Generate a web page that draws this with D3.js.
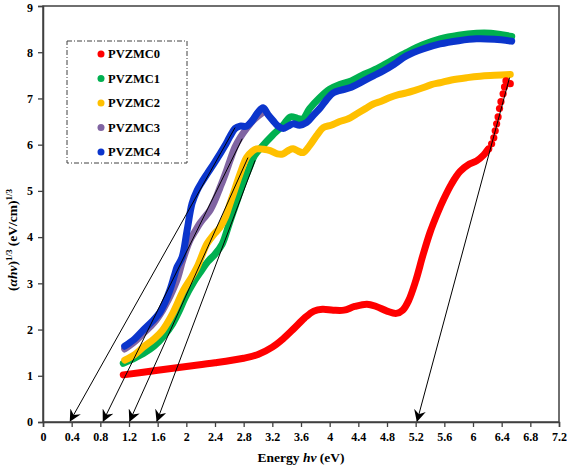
<!DOCTYPE html>
<html><head><meta charset="utf-8">
<script src="https://cdn.jsdelivr.net/npm/d3@7"></script>
<style>body{margin:0;background:#fff}svg{display:block}text{font-family:"Liberation Serif","Times New Roman",serif;font-weight:bold}</style>
</head><body>
<script>
const seriesNames = ["PVZMC0","PVZMC1","PVZMC2","PVZMC3","PVZMC4"];
const seriesColors = ["#ff0000","#00b050","#ffc000","#8064a2","#0b35cc"];
const xTicks = [0,0.4,0.8,1.2,1.6,2,2.4,2.8,3.2,3.6,4,4.4,4.8,5.2,5.6,6,6.4,6.8,7.2];
const yTicks = [0,1,2,3,4,5,6,7,8,9];

const pvzmc0 = [[1.12,1.02],[1.6,1.12],[2.0,1.2],[2.4,1.28],[2.8,1.38],[3.0,1.46],[3.2,1.62],[3.35,1.8],[3.5,2.02],[3.65,2.25],[3.78,2.4],[3.9,2.44],[4.05,2.42],[4.2,2.42],[4.35,2.5],[4.52,2.55],[4.65,2.5],[4.8,2.4],[4.93,2.35],[5.02,2.42],[5.1,2.62],[5.2,3.05],[5.3,3.6],[5.4,4.1],[5.5,4.5],[5.6,4.85],[5.7,5.15],[5.82,5.42],[5.95,5.58],[6.05,5.65],[6.15,5.78],[6.2,5.88]];
const pvzmc0Tail = [[6.22,5.91],[6.26,6.02],[6.29,6.15],[6.31,6.3],[6.33,6.45],[6.35,6.6],[6.37,6.78],[6.39,6.93],[6.42,7.1],[6.44,7.25],[6.46,7.38],[6.52,7.32]];
const pvzmc1 = [[1.12,1.27],[1.25,1.36],[1.4,1.48],[1.55,1.64],[1.68,1.85],[1.81,2.13],[1.9,2.4],[1.98,2.68],[2.1,3.02],[2.2,3.25],[2.3,3.47],[2.4,3.63],[2.5,3.85],[2.6,4.3],[2.7,4.75],[2.8,5.2],[2.88,5.5],[2.95,5.76],[3.05,5.95],[3.2,6.2],[3.35,6.42],[3.45,6.6],[3.55,6.57],[3.62,6.55],[3.72,6.78],[3.85,7.0],[4.0,7.2],[4.14,7.3],[4.3,7.38],[4.45,7.5],[4.6,7.6],[4.75,7.72],[4.9,7.85],[5.07,7.99],[5.3,8.16],[5.54,8.29],[5.8,8.37],[6.05,8.41],[6.25,8.41],[6.4,8.38],[6.54,8.34]];
const pvzmc2 = [[1.14,1.34],[1.28,1.46],[1.4,1.62],[1.55,1.8],[1.67,1.99],[1.81,2.35],[1.96,2.85],[2.06,3.1],[2.15,3.35],[2.29,3.86],[2.38,4.05],[2.47,4.21],[2.55,4.45],[2.61,4.73],[2.68,5.05],[2.75,5.37],[2.84,5.72],[2.92,5.86],[2.98,5.91],[3.08,5.9],[3.17,5.87],[3.27,5.8],[3.35,5.8],[3.43,5.88],[3.49,5.91],[3.56,5.86],[3.63,5.83],[3.72,5.98],[3.82,6.2],[3.91,6.37],[4.02,6.42],[4.14,6.5],[4.26,6.56],[4.38,6.67],[4.5,6.78],[4.61,6.88],[4.72,6.94],[4.84,7.02],[4.96,7.08],[5.07,7.12],[5.18,7.17],[5.3,7.23],[5.42,7.3],[5.54,7.34],[5.7,7.4],[5.92,7.45],[6.1,7.48],[6.3,7.5],[6.52,7.52]];
const pvzmc3 = [[1.14,1.58],[1.28,1.74],[1.4,1.92],[1.55,2.15],[1.67,2.42],[1.74,2.62],[1.81,2.85],[1.88,3.12],[1.95,3.5],[2.05,3.93],[2.12,4.12],[2.19,4.3],[2.26,4.44],[2.33,4.58],[2.4,4.8],[2.47,5.07],[2.54,5.35],[2.61,5.66],[2.68,5.95],[2.75,6.15],[2.84,6.35],[2.93,6.52],[3.0,6.62],[3.07,6.7]];
const pvzmc4 = [[1.14,1.64],[1.28,1.8],[1.4,1.99],[1.52,2.17],[1.63,2.37],[1.7,2.58],[1.77,2.85],[1.83,3.15],[1.87,3.35],[1.94,3.56],[2.01,4.14],[2.08,4.73],[2.15,5.01],[2.22,5.2],[2.29,5.37],[2.38,5.58],[2.47,5.8],[2.54,5.98],[2.61,6.18],[2.68,6.35],[2.75,6.4],[2.84,6.4],[2.92,6.52],[3.0,6.7],[3.07,6.8],[3.14,6.65],[3.21,6.52],[3.28,6.4],[3.35,6.35],[3.42,6.4],[3.49,6.45],[3.58,6.42],[3.68,6.48],[3.78,6.65],[3.87,6.8],[3.96,6.98],[4.05,7.12],[4.16,7.18],[4.28,7.23],[4.45,7.36],[4.61,7.49],[4.75,7.6],[4.9,7.74],[5.07,7.92],[5.3,8.07],[5.54,8.18],[5.8,8.25],[6.05,8.29],[6.3,8.28],[6.54,8.24]];
// tangent lines: [x-intercept, y=0] -> [x end, y end]
const tangentStart = [5.22,1.59,1.21,0.84,0.38];
const tangentEnd = [[6.51,7.45],[2.96,5.66],[2.86,5.72],[2.78,6.13],[2.68,6.37]];

const W=567,H=468;
const x=d3.scaleLinear().domain([0,7.2]).range([43,559]);
const y=d3.scaleLinear().domain([0,9]).range([422,6]);
const svg=d3.select("body").append("svg").attr("width",W).attr("height",H);

const axisCol="#404040";
// frame
svg.append("rect").attr("x",x(0)).attr("y",y(9)).attr("width",x(7.2)-x(0)).attr("height",y(0)-y(9))
  .attr("fill","none").attr("stroke",axisCol).attr("stroke-width",1.5);

const xa=svg.append("g").attr("transform",`translate(0,${y(0)})`)
  .call(d3.axisBottom(x).tickValues(xTicks).tickSize(5).tickPadding(5).tickFormat(d=>String(+d.toFixed(1))));
const ya=svg.append("g").attr("transform",`translate(${x(0)},0)`)
  .call(d3.axisLeft(y).tickValues(yTicks).tickSize(5).tickPadding(5).tickFormat(d3.format("d")));
[xa,ya].forEach(g=>{
  g.select(".domain").attr("stroke",axisCol).attr("stroke-width",1.5);
  g.selectAll(".tick line").attr("stroke",axisCol).attr("stroke-width",1.3);
  g.selectAll(".tick text").attr("fill","#000").style("font-size","12px").style("font-family","Liberation Serif").style("font-weight","bold");
});
ya.selectAll(".tick text").filter(d=>d===9).attr("dy","0.45em");

const data=[pvzmc0,pvzmc1,pvzmc2,pvzmc3,pvzmc4];
const line=d3.line().x(d=>x(d[0])).y(d=>y(d[1])).curve(d3.curveCatmullRom.alpha(0.5));
data.forEach((s,i)=>{
  svg.append("path").datum(s).attr("d",line).attr("fill","none")
    .attr("stroke",seriesColors[i]).attr("stroke-width",7).attr("stroke-linecap","round").attr("stroke-linejoin","round");
});
svg.append("g").selectAll("circle").data(pvzmc0Tail).join("circle")
  .attr("cx",d=>x(d[0])).attr("cy",d=>y(d[1])).attr("r",3.6).attr("fill",seriesColors[0]);

// arrow marker
svg.append("defs").append("marker").attr("id","arr").attr("viewBox","0 0 12 12")
  .attr("refX",11).attr("refY",6).attr("markerWidth",12).attr("markerHeight",12)
  .attr("markerUnits","userSpaceOnUse").attr("orient","auto")
  .append("path").attr("d","M0,0 L12,6 L0,12 L4,6 Z").attr("fill","#000");
tangentStart.forEach((x0,i)=>{
  const e=tangentEnd[i];
  svg.append("line").attr("x1",x(e[0])).attr("y1",y(e[1])).attr("x2",x(x0)).attr("y2",y(0)-1)
    .attr("stroke","#000").attr("stroke-width",1).attr("marker-end","url(#arr)");
});

// legend
const lg=svg.append("g");
lg.append("rect").attr("x",67).attr("y",41).attr("width",120).attr("height",122)
  .attr("fill","#fff").attr("stroke","#404040").attr("stroke-width",1).attr("stroke-dasharray","5,2,1,2");
seriesNames.forEach((n,i)=>{
  const cy=54+i*24.5;
  lg.append("circle").attr("cx",101).attr("cy",cy).attr("r",3.5).attr("fill",seriesColors[i]);
  lg.append("text").attr("x",108).attr("y",cy).attr("dy","0.35em").style("font-size","12.5px").text(n);
});

// axis titles
const xt=svg.append("text").attr("x",301).attr("y",462).attr("text-anchor","middle").style("font-size","13.5px");
xt.append("tspan").text("Energy ");
xt.append("tspan").style("font-style","italic").text("hv");
xt.append("tspan").text(" (eV)");

const yt=svg.append("text").attr("transform","translate(17,240) rotate(-90)").attr("text-anchor","middle").style("font-size","13.5px");
yt.append("tspan").text("(");
yt.append("tspan").style("font-style","italic").text("αhv");
yt.append("tspan").text(")");
yt.append("tspan").attr("dy","-5").style("font-size","9px").text("1/3");
yt.append("tspan").attr("dy","5").text(" (eV/cm)");
yt.append("tspan").attr("dy","-5").style("font-size","9px").text("1/3");
</script>
</body></html>
